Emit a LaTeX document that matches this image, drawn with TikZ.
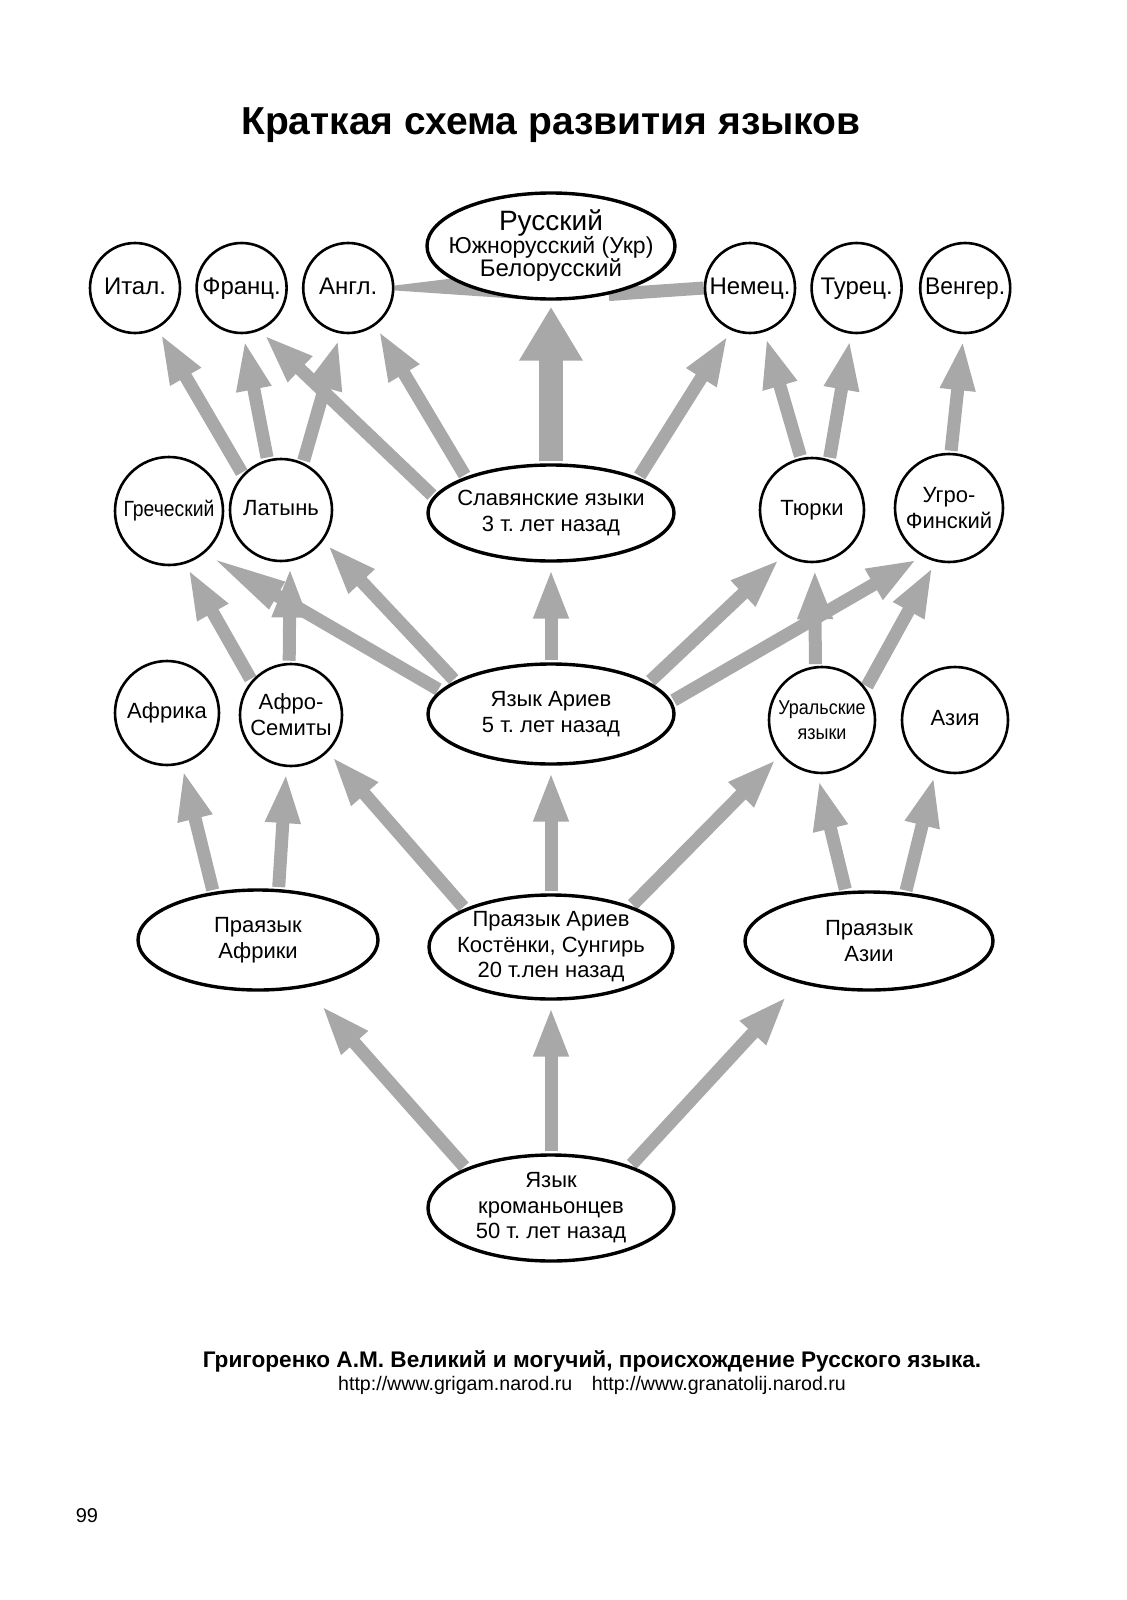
\documentclass[tikz,border=0pt]{standalone}
\usepackage{fontspec}
\usepackage{graphicx}
\setmainfont{Liberation Sans}
\frenchspacing
\usetikzlibrary{arrows.meta,positioning,shapes.geometric,backgrounds}
\definecolor{argray}{RGB}{168,168,168}
\tikzset{
  lang/.style={
    draw=black, line width=1.3pt, fill=white, circle, inner sep=0pt,
    align=center, font=\fontsize{11}{13}\selectfont
  },
  leaf/.style={lang, minimum size=45pt, text height=8.5pt, text depth=2.5pt,
    font=\fontsize{12}{13}\selectfont},
  branch/.style={lang, minimum size=52pt},
  one/.style={text height=8pt, text depth=2.5pt},
  stage/.style={
    draw=black, line width=1.7pt, fill=white, ellipse, inner xsep=-10pt, inner ysep=-3pt,
    minimum width=123pt, minimum height=50pt, align=center,
    font=\fontsize{11}{12.8}\selectfont
  },
  arr/.style={draw=argray, line width=6.5pt, -{Triangle[length=25pt,width=16pt]},
    shorten >=3pt, shorten <=1pt},
  fatarr/.style={arr, line width=12pt, -{Triangle[length=27pt,width=30pt]}},
  longarr/.style={arr, -{Triangle[length=39pt,width=14pt]}},
  lnk/.style={fill=argray},
  ttl/.style={font=\bfseries\fontsize{19.5}{23}\selectfont},
  src/.style={font=\bfseries\fontsize{11.3}{13}\selectfont},
  url/.style={font=\fontsize{9.8}{11}\selectfont}
}

\begin{document}
\begin{tikzpicture}[x=0.5pt, y=-0.5pt]
  \useasboundingbox (0,0) rectangle (1126,1600);

  \node[ttl] (title) at (551,125) {Краткая схема развития языков};

  \node[stage, minimum width=124pt, minimum height=53pt, inner xsep=-14pt, font=\fontsize{11.5}{11.5}\selectfont] (rus) at (551,246)
    {{\fontsize{14}{11.5}\selectfont Русский}\\Южнорусский (Укр)\\{\fontsize{12}{11.5}\selectfont Белорусский}};
  \node[leaf] (ital) at (135,288) {Итал.};
  \node[leaf, right=7pt of ital] (fran) {Франц.};
  \node[leaf, right=7pt of fran] (angl) {Англ.};
  \node[leaf] (nem) at (750,288) {Немец.};
  \node[leaf, right=7pt of nem] (tur) {Турец.};
  \node[leaf, right=8pt of tur] (veng) {\scalebox{0.95}[1]{Венгер.}};

  \node[branch, one, minimum size=54pt] (grek) at (169,511) {\scalebox{0.88}[1]{Греческий}};
  \node[branch, one, minimum size=51pt] (lat) at (281,510) {Латынь};
  \node[stage, minimum height=48pt] (slav) at (551,513) {Славянские языки\\3 т. лет назад};
  \node[branch, one] (turk) at (812,510) {Тюрки};
  \node[branch, minimum size=54pt] (ugro) at (949,508) {Угро-\\Финский};

  \node[branch, one] (afr) at (167,713) {Африка};
  \node[branch, minimum size=51pt] (afrosem) at (291,715) {Афро-\\Семиты};
  \node[stage] (ariev) at (551,714) {Язык Ариев\\5 т. лет назад};
  \node[branch, minimum size=53pt, font=\fontsize{10}{12.5}\selectfont] (ural) at (822,720)
    {\scalebox{0.9}[1]{Уральские}\\\scalebox{0.9}[1]{языки}};
  \node[branch, one, minimum size=53pt] (aziya) at (955,720) {Азия};

  \node[stage, minimum width=120pt] (praafr) at (258,940) {Праязык\\Африки};
  \node[stage, minimum width=122pt, minimum height=52pt] (praariev) at (551,947)
    {Праязык Ариев\\Костёнки, Сунгирь\\20 т.лен назад};
  \node[stage, minimum width=124pt, minimum height=49pt] (praaz) at (869,941) {Праязык\\Азии};

  \node[stage, minimum height=53pt] (krom) at (551,1208) {Язык\\кроманьонцев\\50 т. лет назад};

  \node[src] (book) at (592,1361) {Григоренко А.М. Великий и могучий, происхождение Русского языка.};
  \node[url] (links) at (592,1385) {http://www.grigam.narod.ru\hspace{1em}http://www.granatolij.narod.ru};
  \node[font=\fontsize{10}{12}\selectfont] (page) at (87,1516) {99};

  \begin{scope}[on background layer]
    \fill[white] (0,0) rectangle (1126,1600);
    \fill[lnk] (angl.3) -- (rus.198) -- (rus.240) -- (angl.-3) -- cycle;
    \draw[draw=argray, line width=6.5pt] (nem.180) -- (rus.-40);

    \draw[arr] (lat.137) -- (ital.-61);
    \draw[arr] (lat.105) -- (fran.-88);
    \draw[arr] (lat.65) -- (angl.-100);
    \draw[arr] (slav.172) -- (fran.-67);
    \draw[arr] (slav.157) -- (angl.-54);
    \draw[fatarr] (slav.north) -- (rus.south);
    \draw[arr] (slav.22) -- (nem.-114);
    \draw[arr] (turk.102) -- (nem.-72);
    \draw[arr] (turk.71) -- (tur.-97);
    \draw[arr] (ugro.88) -- (veng.-92);

    \draw[longarr] (ariev.168) -- (grek.-50);
    \draw[arr] (afrosem.139) -- (grek.-73);
    \draw[arr] (afrosem.92) -- (lat.-80);
    \draw[arr] (ariev.161) -- (lat.-36);
    \draw[arr] (ariev.north) -- (slav.south);
    \draw[arr] (ariev.18) -- (turk.-122);
    \draw[arr] (ariev.6) -- (ugro.-119);
    \draw[arr] (ural.97) -- (turk.-87);
    \draw[arr] (ural.36) -- (ugro.-104);

    \draw[arr] (praafr.133) -- (afr.-74);
    \draw[arr] (praafr.68) -- (afrosem.-95);
    \draw[arr] (praariev.156) -- (afrosem.-45);
    \draw[arr] (praariev.north) -- (ariev.south);
    \draw[arr] (praariev.27) -- (ural.-140);
    \draw[arr] (praaz.115) -- (ural.-95);
    \draw[arr] (praaz.53) -- (aziya.-111);

    \draw[arr, shorten >=12pt] (krom.155) -- (praafr.-45);
    \draw[arr] (krom.north) -- (praariev.south);
    \draw[arr, shorten >=9pt] (krom.28) -- (praaz.-149);
  \end{scope}
\end{tikzpicture}
\end{document}
